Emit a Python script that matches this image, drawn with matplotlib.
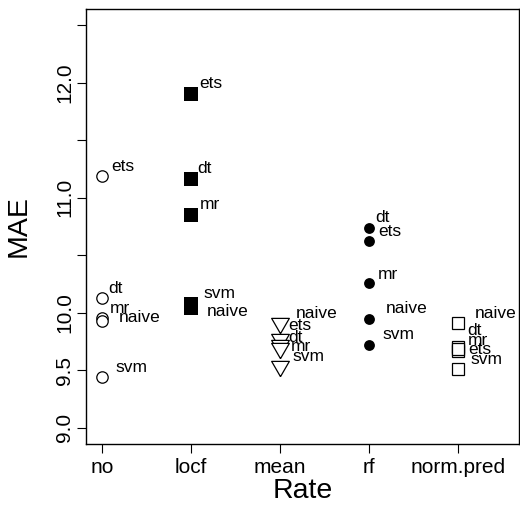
import matplotlib
matplotlib.use("Agg")
import matplotlib.pyplot as plt

# ---- data ----
methods = ["no", "locf", "mean", "rf", "norm.pred"]
models = ["ets", "dt", "mr", "naive", "svm"]
mae_ets = [11.19, 11.90, 9.77, 10.62, 9.67]
mae_dt = [10.13, 11.165, 9.72, 10.74, 9.70]
mae_mr = [9.955, 10.85, 9.69, 10.26, 9.687]
mae_naive = [9.925, 10.04, 9.91, 9.95, 9.91]
mae_svm = [9.44, 10.08, 9.535, 9.72, 9.515]
yticks = [9.0, 9.5, 10.0, 10.5, 11.0, 11.5, 12.0, 12.5]
ytick_labels = ["9.0", "9.5", "10.0", "", "11.0", "", "12.0", ""]

series = dict(zip(models, [mae_ets, mae_dt, mae_mr, mae_naive, mae_svm]))

plt.rcParams['font.family'] = ['Liberation Sans', 'DejaVu Sans']

fig = plt.figure(figsize=(5.2, 5.12), dpi=100)
ax = fig.add_axes([86/520, 68/512, 433/520, 435/512])

tri_down = [(0, -1.555), (1.347, 0.778), (-1.347, 0.778), (0, -1.555)]
styles = {
    "no": dict(marker="o", ms=8.2, mfc="white", mec="black", mew=0.9),
    "locf": dict(marker="s", ms=10.0, mfc="black", mec="black", mew=0),
    "mean": dict(marker=tri_down, ms=14.7, mfc="white", mec="black", mew=0.9),
    "rf": dict(marker="o", ms=7.8, mfc="black", mec="black", mew=0),
    "norm.pred": dict(marker="s", ms=8.2, mfc="white", mec="black", mew=0.9),
}

# label offsets in pixels (dx right, dy down) relative to the point
offs = {
    "no": {"ets": (9.7, -9.3), "dt": (6.3, -9.3), "mr": (8, -9), "naive": (16.3, -4), "svm": (13, -10)},
    "locf": {"ets": (8.3, -11), "dt": (6, -10), "mr": (8.3, -10.7), "naive": (16, 3), "svm": (12.3, -9.7)},
    "mean": {"ets": (8.3, -13.4), "dt": (8.3, -8), "mr": (11, -1.7), "naive": (16, -10), "svm": (12.3, -9.4)},
    "rf": {"ets": (9, -10), "dt": (5.7, -10), "mr": (8.3, -8.5), "naive": (16, -10), "svm": (13.3, -10.3)},
    "norm.pred": {"ets": (10, -1), "dt": (9, -16.8), "mr": (9, -8.3), "naive": (16.4, -10), "svm": (12.4, -9)},
}

for i, m in enumerate(methods):
    xs = [i + 1] * len(models)
    ys = [series[k][i] for k in models]
    ax.plot(xs, ys, linestyle="none", **styles[m])
    for k in models:
        dx, dy = offs[m][k]
        ax.annotate(k, (i + 1, series[k][i]), xytext=(dx * 0.72, -dy * 0.72),
                    textcoords="offset points", ha="left", va="center",
                    fontsize=12.5, color="black")

ax.set_xlim(0.82, 5.68)
ax.set_ylim(8.86, 12.64)
ax.set_xticks(range(1, len(methods) + 1))
ax.set_xticklabels(methods)
ax.set_yticks(yticks)
ax.set_yticklabels(ytick_labels, rotation=90, va="center")
ax.tick_params(axis="both", direction="out", length=6.3, width=0.8, labelsize=15)
ax.tick_params(axis="x", pad=3.5)
ax.tick_params(axis="y", pad=2)
for s in ax.spines.values():
    s.set_linewidth(1.0)
ax.set_xlabel("Rate", fontsize=20.5)
ax.set_ylabel("MAE", fontsize=20.5)
ax.xaxis.set_label_coords(0.5, -0.078)
ax.yaxis.set_label_coords(-0.125, 0.5)

fig.savefig("out.png", dpi=100)
